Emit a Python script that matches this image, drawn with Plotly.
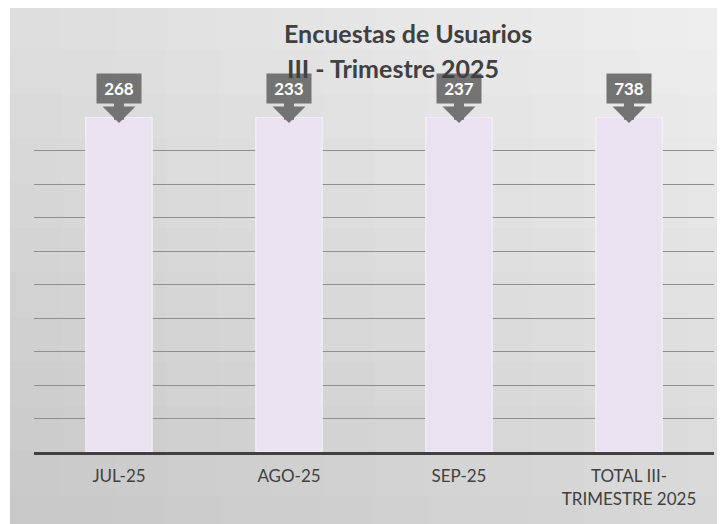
import plotly.graph_objects as go

# datos del grafico
meses = ["JUL-25", "AGO-25", "SEP-25", "TOTAL III-<br>TRIMESTRE 2025"]
encuestas = [268, 233, 237, 738]
titulo_1 = "Encuestas de Usuarios"
titulo_2 = "III - Trimestre 2025"

W, H = 725, 524
OFF = 8  # page body margin shifts the figure by 8px
L, R, T, B = 34 - OFF, 11 + OFF, 117 - OFF, 72 + OFF
pw, ph = W - L - R, H - T - B

fig = go.Figure()

# each bar fills the whole axis (barnorm percent on a single series)
fig.add_trace(go.Bar(
    x=meses, y=encuestas,
    width=0.39,
    marker=dict(color="#ebe2f1", line=dict(color="#f7f4fa", width=1)),
    hoverinfo="x+text", hovertext=[str(v) for v in encuestas],
))


# screen pixel (as seen in the page) -> paper coords
def px2x(p):
    return (p - OFF - L) / pw


def py2y(p):
    return (H - B - (p - OFF)) / ph


# background gradient (light top-right, darker bottom-left)
nx, ny = 14, 12
x0p, x1p, y0p, y1p = 10, 740, 5, 540
shapes = []
for i in range(nx):
    for j in range(ny):
        fx = (i + 0.5) / nx
        fy = (j + 0.5) / ny
        v = int(round(222 + 18 * fx - 24 * fy))
        v = max(196, min(242, v))
        c = f"rgb({v},{v},{v})"
        shapes.append(dict(
            type="rect", layer="below", line=dict(width=0), fillcolor=c,
            xref="paper", yref="paper",
            x0=px2x(x0p + (x1p - x0p) * i / nx), x1=px2x(x0p + (x1p - x0p) * (i + 1) / nx) + 0.002,
            y0=py2y(y0p + (y1p - y0p) * j / ny), y1=py2y(y0p + (y1p - y0p) * (j + 1) / ny) - 0.003,
        ))

annotations = []
# callout arrows first, boxes on top
for m in meses:
    annotations.append(dict(
        x=m, y=98.2, xref="x", yref="y", text="", showarrow=True,
        ax=0, ay=-24,
        arrowhead=1, arrowsize=0.55, arrowwidth=10, arrowcolor="#737373",
    ))
for m, v in zip(meses, encuestas):
    annotations.append(dict(
        x=m, y=100, xref="x", yref="y", yshift=29,
        text=f"<b>{v}</b>", showarrow=False,
        bgcolor="#737373", borderpad=4, width=36,
        font=dict(family="Lato, sans-serif", size=17, color="white"),
    ))

for txt, cx, cy in [(titulo_1, 408, 33), (titulo_2, 393, 68)]:
    annotations.append(dict(
        text=f"<b>{txt}</b>", x=px2x(cx), y=py2y(cy), xref="paper", yref="paper",
        xanchor="center", yanchor="middle", showarrow=False,
        font=dict(family="Lato, sans-serif", size=25, color="#404040"),
    ))

fig.update_layout(
    width=W, height=H,
    margin=dict(l=L, r=R, t=T, b=B),
    paper_bgcolor="white", plot_bgcolor="rgba(0,0,0,0)",
    barmode="stack", barnorm="percent",
    showlegend=False,
    shapes=shapes, annotations=annotations,
    font=dict(family="Lato, sans-serif", size=17, color="#404040"),
)
fig.update_yaxes(range=[0, 100], dtick=10, showticklabels=False, automargin=False,
                 showgrid=True, gridcolor="#8f8f8f", gridwidth=1, zeroline=False)
fig.update_xaxes(showline=True, linecolor="#404040", linewidth=3, automargin=False,
                 showgrid=False, ticks="", ticklabelstandoff=7,
                 tickfont=dict(size=17, color="#404040"))

fig.write_html("out.html")
